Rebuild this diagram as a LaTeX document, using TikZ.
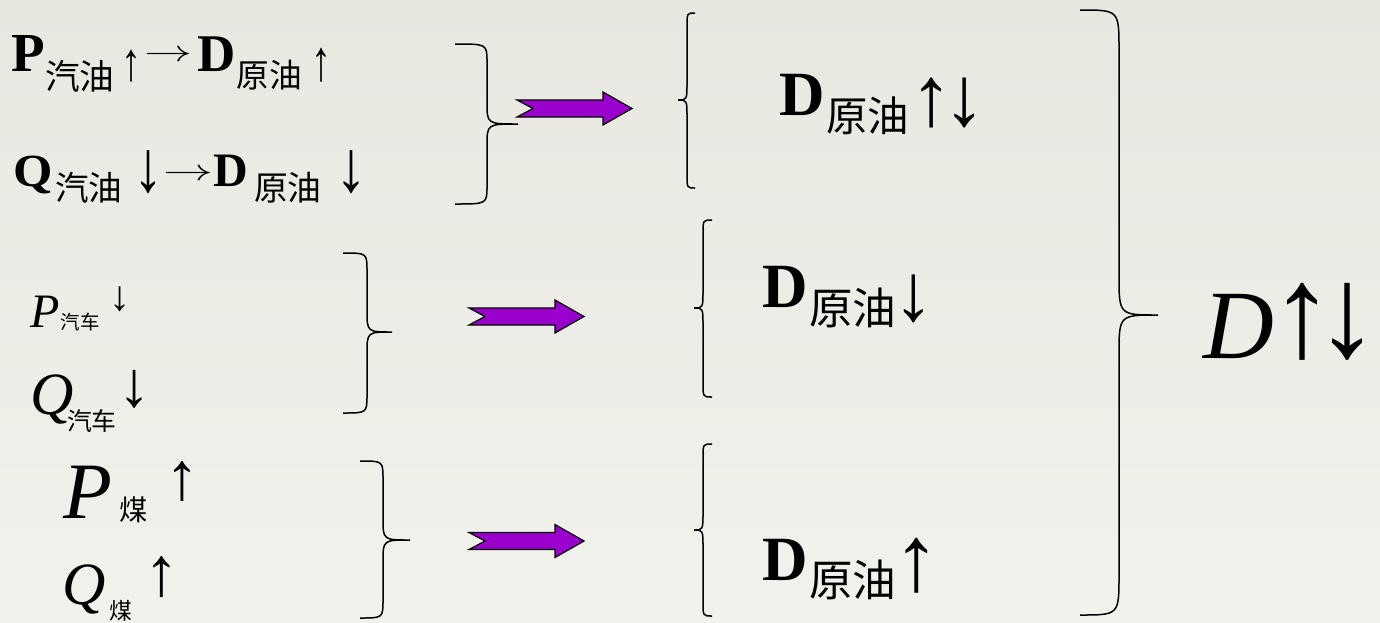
\documentclass[tikz,border=0pt]{standalone}
\usepackage{graphicx}
\usepackage{fontspec}
\setmainfont{Liberation Serif}
\newfontfamily\cjk{Noto Sans CJK SC}
\newcommand\fsz[1]{\fontsize{#1}{#1}\selectfont}
% piece of fixed advance width
\newcommand\pc[2]{\makebox[#1pt][l]{#2}}
% glyph scaled to ink height #1, bottom raised #2 above the baseline
\newcommand\gl[3]{\raisebox{#2pt}{\resizebox*{!}{#1pt}{\raisebox{\depth}{#3}}}}
% glyph scaled to width #1 and height #2, bottom raised #3
\newcommand\glw[4]{\raisebox{#3pt}{\resizebox*{#1pt}{#2pt}{\raisebox{\depth}{#4}}}}
\newcommand\BrR[7]{% name, x0, xv, xtip, ytop, ymid, ybot ; tip to the right
  \draw[brace] (#2,#5) .. controls (#3,#5) .. (#3,#5+18) -- (#3,#6-22) .. controls (#3,#6) .. (#4,#6) coordinate (#1)
    .. controls (#3,#6) .. (#3,#6+22) -- (#3,#7-18) .. controls (#3,#7) .. (#2,#7);}
\newcommand\BrL[7]{% tip to the left
  \draw[brace] (#2,#5) .. controls (#3,#5) .. (#3,#5+14) -- (#3,#6-18) .. controls (#3,#6) .. (#4,#6) coordinate (#1)
    .. controls (#3,#6) .. (#3,#6+18) -- (#3,#7-14) .. controls (#3,#7) .. (#2,#7);}
\newcommand\BlockArrow[3]{% xtail, xtip, ycenter
  \fill[blockarrow] (#1,#3-8.5) -- (#2-29,#3-8.5) -- (#2-29,#3-16.5) -- (#2,#3) -- (#2-29,#3+16.5)
    -- (#2-29,#3+8.5) -- (#1,#3+8.5) -- (#1+16,#3) -- cycle;}
\definecolor{bgtop}{RGB}{232,232,225}
\definecolor{bgbot}{RGB}{242,242,236}
\definecolor{arrowpurple}{RGB}{153,0,204}
\begin{document}
\begin{tikzpicture}[x=1pt,y=-1pt,
  txt/.style={anchor=base west,inner sep=0pt,outer sep=0pt},
  brace/.style={draw=black,line width=1.5pt},
  blockarrow/.style={fill=arrowpurple,draw=black,line width=1.2pt,line join=miter}]
\useasboundingbox (0,0) rectangle (1380,622);
\shade[top color=bgtop,bottom color=bgbot] (0,0) rectangle (1380,622);
% left column
\node[txt] (t1) at (12,71) {\pc{33}{\fsz{55}\bfseries P}\pc{76}{\gl{32}{-21}{\cjk 汽油}}\pc{24}{\glw{20}{32}{-11}{↑}}\pc{52}{\glw{48}{11}{10}{$\rightarrow$}}\pc{40}{\fsz{53}\bfseries D}\pc{75}{\gl{30}{-19}{\cjk 原油}}\glw{20}{34}{-11}{↑}};
\node[txt] (t2) at (13,186) {\pc{42}{\scalebox{1.1}[1]{\fsz{46}\bfseries Q}}\pc{78}{\gl{31}{-17}{\cjk 汽油}}\pc{30}{\glw{30}{43}{-8}{↓}}\pc{50}{\glw{50}{11}{6}{$\rightarrow$}}\pc{41}{\fsz{48}\bfseries D}\pc{82}{\gl{31}{-17}{\cjk 原油}}\glw{32}{43}{-8}{↓}};
\node[txt] (t3) at (30,327) {\pc{31}{\fsz{48}\itshape P}\pc{48}{\gl{18}{-4}{\cjk 汽车}}\gl{25}{15}{↓}};
\node[txt] (t4) at (30,414) {\pc{37}{\fsz{60}\itshape Q}\pc{52}{\gl{23}{-19}{\cjk 汽车}}\gl{38}{6}{↓}};
\node[txt] (t5) at (63,518) {\pc{56}{\fsz{80}\itshape P}\pc{46}{\gl{26}{-5}{\cjk 煤}}\gl{40}{16}{↑}};
\node[txt] (t6) at (62,604) {\pc{47}{\fsz{60}\itshape Q}\pc{35}{\gl{21}{-17}{\cjk 煤}}\gl{41}{6}{↑}};
% middle column
\node[txt] (m1) at (779,115) {\pc{47}{\fsz{63}\bfseries D}\pc{84}{\gl{38}{-20}{\cjk 原油}}\pc{33}{\gl{50}{-13}{↑}}\gl{50}{-13}{↓}};
\node[txt] (m2) at (762,307) {\pc{47}{\fsz{63}\bfseries D}\pc{84}{\gl{40}{-21}{\cjk 原油}}\gl{48}{-16}{↓}};
\node[txt] (m3) at (762,580) {\pc{47}{\fsz{63}\bfseries D}\pc{84}{\gl{40}{-20}{\cjk 原油}}\gl{55}{-13}{↑}};
% result
\node[txt] (r) at (1203,358) {\pc{67}{\fsz{98}\itshape D}\pc{45}{\glw{64}{77}{-2}{↑}}\glw{64}{77}{-2}{↓}};
% braces
\BrR{b1}{455}{487}{518}{44}{124}{204}
\BrR{b2}{343}{367}{392}{253}{332}{413}
\BrR{b3}{360}{383}{410}{461}{540}{618}
\BrL{l1}{695}{687}{678}{13}{100}{188}
\BrL{l2}{712}{703}{694}{220}{308}{397}
\BrL{l3}{712}{703}{694}{444}{530}{616}
\draw[brace] (1080,10) .. controls (1119,10) .. (1119,50) -- (1119,275) .. controls (1119,315) .. (1158,315) coordinate (bR)
  .. controls (1119,315) .. (1119,355) -- (1119,575) .. controls (1119,615) .. (1080,615);
% block arrows
\BlockArrow{517}{632}{108.5}
\BlockArrow{469}{584}{316.5}
\BlockArrow{469}{584}{541}
\end{tikzpicture}
\end{document}
